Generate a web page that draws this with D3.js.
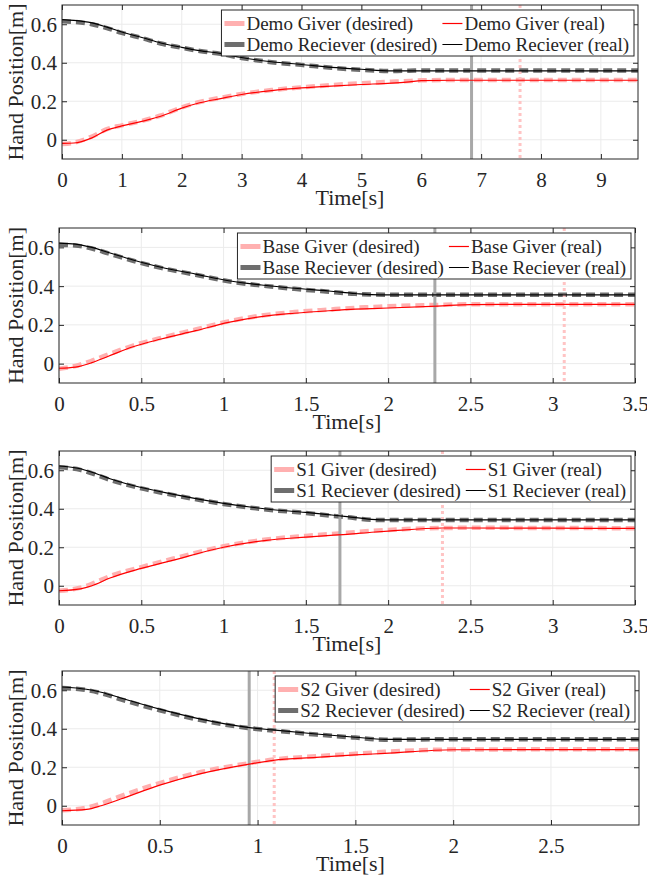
<!DOCTYPE html>
<html>
<head>
<meta charset="utf-8">
<script src="https://cdn.jsdelivr.net/npm/d3@7"></script>
<style>
  body { margin: 0; background: #fff; }
  svg { display: block; }
  svg, svg text { font-family: "Times New Roman", "Liberation Serif", Tinos, "DejaVu Serif", serif !important; }
  text { fill: #262626; }
</style>
</head>
<body>
<div id="chart"></div>
<script>
// ---- data ----
var demoTime = [0, 0.2, 0.5, 0.75, 1.0, 1.35, 1.65, 2.0, 2.3, 2.65, 3.0, 3.5, 4.0, 4.5, 5.0, 5.5, 5.8, 6.0, 6.5, 7, 8, 9, 9.62];
var demoGiverReal = [-0.019, -0.017, 0.010, 0.050, 0.072, 0.097, 0.122, 0.164, 0.192, 0.214, 0.235, 0.255, 0.269, 0.279, 0.287, 0.294, 0.301, 0.307, 0.309, 0.309, 0.309, 0.309, 0.309];
var demoGiverDesired = [-0.022, -0.015, 0.017, 0.055, 0.075, 0.099, 0.126, 0.168, 0.196, 0.218, 0.238, 0.258, 0.272, 0.284, 0.294, 0.301, 0.305, 0.309, 0.310, 0.310, 0.310, 0.310, 0.310];
var demoRecvReal = [0.624, 0.620, 0.607, 0.585, 0.560, 0.530, 0.503, 0.480, 0.463, 0.448, 0.427, 0.405, 0.391, 0.376, 0.366, 0.358, 0.358, 0.358, 0.358, 0.358, 0.358, 0.358, 0.358];
var demoRecvDesired = [0.615, 0.612, 0.600, 0.580, 0.555, 0.527, 0.500, 0.478, 0.461, 0.446, 0.425, 0.403, 0.389, 0.374, 0.363, 0.357, 0.359, 0.360, 0.360, 0.360, 0.360, 0.360, 0.360];

var baseTime = [0, 0.1, 0.2, 0.3, 0.45, 0.62, 0.83, 1.03, 1.23, 1.43, 1.64, 1.8, 1.9, 2.0, 2.3, 2.5, 3.0, 3.5];
var baseGiverReal = [-0.024, -0.018, 0.005, 0.038, 0.087, 0.127, 0.170, 0.213, 0.243, 0.260, 0.273, 0.281, 0.284, 0.287, 0.297, 0.305, 0.306, 0.306];
var baseGiverDesired = [-0.026, -0.012, 0.015, 0.048, 0.093, 0.133, 0.176, 0.218, 0.248, 0.266, 0.279, 0.288, 0.292, 0.296, 0.303, 0.306, 0.306, 0.306];
var baseRecvReal = [0.622, 0.617, 0.600, 0.574, 0.535, 0.497, 0.462, 0.428, 0.406, 0.389, 0.375, 0.362, 0.356, 0.355, 0.355, 0.355, 0.355, 0.355];
var baseRecvDesired = [0.614, 0.610, 0.594, 0.569, 0.531, 0.494, 0.459, 0.425, 0.403, 0.386, 0.371, 0.360, 0.357, 0.356, 0.356, 0.356, 0.356, 0.356];

var s1Time = [0, 0.13, 0.2, 0.31, 0.5, 0.69, 1.0, 1.26, 1.5, 1.65, 1.75, 1.9, 2.0, 2.33, 2.5, 3.0, 3.5];
var s1GiverReal = [-0.026, -0.016, 0.000, 0.040, 0.090, 0.132, 0.200, 0.236, 0.253, 0.262, 0.267, 0.278, 0.284, 0.300, 0.300, 0.299, 0.298];
var s1GiverDesired = [-0.026, -0.010, 0.010, 0.050, 0.097, 0.140, 0.205, 0.240, 0.259, 0.269, 0.275, 0.285, 0.290, 0.300, 0.301, 0.300, 0.299];
var s1RecvReal = [0.622, 0.608, 0.590, 0.556, 0.510, 0.476, 0.428, 0.399, 0.381, 0.368, 0.359, 0.345, 0.342, 0.342, 0.342, 0.342, 0.342];
var s1RecvDesired = [0.615, 0.602, 0.584, 0.550, 0.506, 0.472, 0.425, 0.396, 0.378, 0.364, 0.356, 0.343, 0.341, 0.342, 0.342, 0.342, 0.342];

var s2Time = [0, 0.125, 0.2, 0.3, 0.5, 0.71, 0.95, 1.08, 1.3, 1.5, 1.65, 2.0, 2.5, 2.95];
var s2GiverReal = [-0.026, -0.019, 0.000, 0.035, 0.107, 0.167, 0.215, 0.236, 0.251, 0.264, 0.272, 0.291, 0.292, 0.292];
var s2GiverDesired = [-0.024, -0.010, 0.012, 0.050, 0.118, 0.175, 0.220, 0.240, 0.257, 0.270, 0.280, 0.292, 0.293, 0.293];
var s2RecvReal = [0.617, 0.605, 0.590, 0.560, 0.502, 0.450, 0.407, 0.394, 0.373, 0.356, 0.345, 0.345, 0.345, 0.345];
var s2RecvDesired = [0.612, 0.601, 0.585, 0.553, 0.496, 0.445, 0.404, 0.391, 0.370, 0.354, 0.343, 0.346, 0.346, 0.346];

var panelNames = ["Demo", "Base", "S1", "S2"];
var timeMax = [9.62, 3.5, 3.5, 2.95];
var handoverTimes = [6.84, 2.284, 1.707, 0.957];   // solid gray marker
var releaseTimes = [7.65, 3.07, 2.33, 1.085];      // dotted pink marker
var xTickValues = [
    [0, 1, 2, 3, 4, 5, 6, 7, 8, 9],
    [0, 0.5, 1, 1.5, 2, 2.5, 3, 3.5],
    [0, 0.5, 1, 1.5, 2, 2.5, 3, 3.5],
    [0, 0.5, 1, 1.5, 2, 2.5]
];
var yTickValues = [0, 0.2, 0.4, 0.6];

var series = [
    { time: demoTime, gd: demoGiverDesired, gr: demoGiverReal, rd: demoRecvDesired, rr: demoRecvReal },
    { time: baseTime, gd: baseGiverDesired, gr: baseGiverReal, rd: baseRecvDesired, rr: baseRecvReal },
    { time: s1Time, gd: s1GiverDesired, gr: s1GiverReal, rd: s1RecvDesired, rr: s1RecvReal },
    { time: s2Time, gd: s2GiverDesired, gr: s2GiverReal, rd: s2RecvDesired, rr: s2RecvReal }
];

// ---- layout ----
var W = 647, H = 886;
var FONT = '"Times New Roman", "Liberation Serif", Tinos, "DejaVu Serif", serif';
var boxes = [
    { left: 62, top: 5, right: 638, bottom: 159 },
    { left: 59, top: 228, right: 635, bottom: 383 },
    { left: 59, top: 451, right: 635, bottom: 605 },
    { left: 62, top: 671, right: 639, bottom: 825 }
];
var pink = "#ffb0b0", gray = "#6e6e6e";

var svg = d3.select("#chart").append("svg")
    .attr("width", W)
    .attr("height", H)
    .style("font-family", FONT);

function fmt(v) { return v === 0 ? "0" : String(v); }

function drawPanel(i) {
    var b = boxes[i], s = series[i], name = panelNames[i];
    var x = d3.scaleLinear().domain([0, timeMax[i]]).range([b.left, b.right]);
    var y = d3.scaleLinear().domain([-0.1, 0.7]).range([b.bottom, b.top]);
    var g = svg.append("g").attr("class", "panel" + i);

    g.append("clipPath").attr("id", "clip" + i)
        .append("rect")
        .attr("x", b.left).attr("y", b.top)
        .attr("width", b.right - b.left).attr("height", b.bottom - b.top);

    // grid
    var grid = g.append("g");
    xTickValues[i].forEach(function (t) {
        grid.append("line")
            .attr("x1", x(t)).attr("x2", x(t))
            .attr("y1", b.top).attr("y2", b.bottom)
            .attr("stroke", "#ebebeb").attr("stroke-width", 1);
    });
    yTickValues.forEach(function (v) {
        grid.append("line")
            .attr("x1", b.left).attr("x2", b.right)
            .attr("y1", y(v)).attr("y2", y(v))
            .attr("stroke", "#ebebeb").attr("stroke-width", 1);
    });

    var plot = g.append("g").attr("clip-path", "url(#clip" + i + ")");
    var line = function (vals) {
        return d3.line()
            .x(function (d, k) { return x(s.time[k]); })
            .y(function (d) { return y(d); })
            .curve(d3.curveMonotoneX)(vals);
    };

    // desired (thick dashed)
    plot.append("path").attr("d", line(s.gd))
        .attr("fill", "none").attr("stroke", pink)
        .attr("stroke-width", 4.5).attr("stroke-dasharray", "9,5");
    plot.append("path").attr("d", line(s.rd))
        .attr("fill", "none").attr("stroke", gray)
        .attr("stroke-width", 4.5).attr("stroke-dasharray", "9,5");

    // event markers
    plot.append("line")
        .attr("x1", x(handoverTimes[i])).attr("x2", x(handoverTimes[i]))
        .attr("y1", b.top).attr("y2", b.bottom)
        .attr("stroke", "#a8a8a8").attr("stroke-width", 3);
    plot.append("line")
        .attr("x1", x(releaseTimes[i])).attr("x2", x(releaseTimes[i]))
        .attr("y1", b.top).attr("y2", b.bottom)
        .attr("stroke", "#ffc4c4").attr("stroke-width", 3)
        .attr("stroke-dasharray", "3,3");

    // real (thin solid)
    plot.append("path").attr("d", line(s.gr))
        .attr("fill", "none").attr("stroke", "#ff0000").attr("stroke-width", 1.2);
    plot.append("path").attr("d", line(s.rr))
        .attr("fill", "none").attr("stroke", "#000").attr("stroke-width", 1.1);

    // axes with inward ticks on all four sides
    var tl = 5;
    g.append("g").attr("transform", "translate(0," + b.bottom + ")")
        .call(d3.axisBottom(x).tickValues(xTickValues[i]).tickSizeInner(-tl).tickSizeOuter(0).tickFormat(fmt))
        .call(function (a) {
            a.attr("font-family", null);
            a.select(".domain").remove();
            a.selectAll("line").attr("stroke", "#262626");
            a.selectAll("text").attr("y", 28).attr("dy", null)
                .style("font-family", FONT)
                .style("font-size", "21px").attr("fill", "#262626");
        });
    g.append("g").attr("transform", "translate(0," + b.top + ")")
        .call(d3.axisTop(x).tickValues(xTickValues[i]).tickSizeInner(-tl).tickSizeOuter(0).tickFormat(""))
        .call(function (a) { a.select(".domain").remove(); a.selectAll("line").attr("stroke", "#262626"); });
    g.append("g").attr("transform", "translate(" + b.left + ",0)")
        .call(d3.axisLeft(y).tickValues(yTickValues).tickSizeInner(-tl).tickSizeOuter(0).tickFormat(fmt))
        .call(function (a) {
            a.attr("font-family", null);
            a.select(".domain").remove();
            a.selectAll("line").attr("stroke", "#262626");
            a.selectAll("text").attr("x", -5).attr("dy", "0.33em")
                .style("font-family", FONT)
                .style("font-size", "21px").attr("fill", "#262626");
        });
    g.append("g").attr("transform", "translate(" + b.right + ",0)")
        .call(d3.axisRight(y).tickValues(yTickValues).tickSizeInner(-tl).tickSizeOuter(0).tickFormat(""))
        .call(function (a) { a.select(".domain").remove(); a.selectAll("line").attr("stroke", "#262626"); });

    g.append("rect")
        .attr("x", b.left).attr("y", b.top)
        .attr("width", b.right - b.left).attr("height", b.bottom - b.top)
        .attr("fill", "none").attr("stroke", "#262626").attr("stroke-width", 1);

    // axis labels
    g.append("text")
        .attr("x", (b.left + b.right) / 2).attr("y", b.bottom + 46)
        .attr("text-anchor", "middle")
        .style("font-family", FONT).style("font-size", "22px")
        .text("Time[s]");
    g.append("text")
        .attr("transform", "translate(23," + ((b.top + b.bottom) / 2) + ") rotate(-90)")
        .attr("text-anchor", "middle")
        .style("font-family", FONT).style("font-size", "22px")
        .text("Hand Position[m]");

    // legend, 2 columns
    var entries = [
        { label: name + " Giver (desired)", color: pink, w: 5 },
        { label: name + " Giver (real)", color: "#ff0000", w: 1.2 },
        { label: name + " Reciever (desired)", color: gray, w: 5 },
        { label: name + " Reciever (real)", color: "#000", w: 1 }
    ];
    var leg = g.append("g");
    var box = leg.append("rect").attr("fill", "#fff").attr("stroke", "#262626").attr("stroke-width", 1);
    var texts = entries.map(function (e) {
        return leg.append("text")
            .style("font-family", FONT).style("font-size", "19px")
            .text(e.label);
    });
    var widths = texts.map(function (t) { return t.node().getComputedTextLength(); });
    var col1 = Math.max(widths[0], widths[2]);
    var col2 = Math.max(widths[1], widths[3]);
    var sample = 20;
    var legW = 3 + sample + 2 + col1 + 5 + sample + 2 + col2 + 5;
    var legH = 46;
    var lx = b.right - 4 - legW, ly = b.top + 5;
    box.attr("x", lx).attr("y", ly).attr("width", legW).attr("height", legH);
    entries.forEach(function (e, k) {
        var col = k % 2, row = Math.floor(k / 2);
        var sx = lx + 3 + (col === 1 ? sample + 2 + col1 + 5 : 0);
        var cy = ly + 13.5 + row * 21;
        leg.append("line")
            .attr("x1", sx).attr("x2", sx + sample)
            .attr("y1", cy).attr("y2", cy)
            .attr("stroke", e.color).attr("stroke-width", e.w);
        texts[k].attr("x", sx + sample + 2).attr("y", cy + 6.5);
    });
}

for (var i = 0; i < 4; i++) drawPanel(i);
</script>
</body>
</html>
